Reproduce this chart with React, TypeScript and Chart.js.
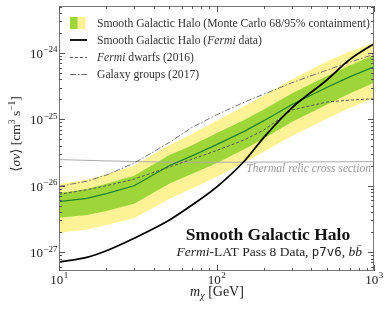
import React, { useEffect, useRef } from 'react';
import { Chart, registerables } from 'chart.js';
Chart.register(...registerables);

// ---- data ----
const masses = [10, 15, 20, 30, 50, 70, 100, 150, 200, 300, 500, 700, 1000];
const mcMedian = [5.75e-27, 6.46e-27, 7.59e-27, 1.0e-26, 2.0e-26, 2.82e-26, 4.17e-26, 6.61e-26, 9.55e-26, 1.66e-25, 3.02e-25, 4.37e-25, 6.17e-25];
const mc68Hi = [7.76e-27, 8.91e-27, 1.07e-26, 1.41e-26, 2.88e-26, 4.07e-26, 6.17e-26, 9.77e-26, 1.41e-25, 2.45e-25, 4.47e-25, 6.46e-25, 9.33e-25];
const mc68Lo = [3.31e-27, 3.63e-27, 4.17e-27, 5.37e-27, 1.07e-26, 1.51e-26, 2.19e-26, 3.55e-26, 5.13e-26, 9.12e-26, 1.66e-25, 2.45e-25, 3.55e-25];
const mc95Hi = [1.07e-26, 1.23e-26, 1.48e-26, 2.0e-26, 4.07e-26, 6.03e-26, 9.55e-26, 1.58e-25, 2.29e-25, 3.98e-25, 7.41e-25, 1.05e-24, 1.41e-24];
const mc95Lo = [1.95e-27, 2.19e-27, 2.57e-27, 3.24e-27, 6.31e-27, 9.12e-27, 1.35e-26, 2.24e-26, 3.24e-26, 5.62e-26, 1.02e-25, 1.48e-25, 2.09e-25];
const fermiData = [7.08e-28, 8.32e-28, 1.05e-27, 1.62e-27, 3.02e-27, 5.13e-27, 9.55e-27, 2.34e-26, 5.37e-26, 1.48e-25, 3.89e-25, 7.94e-25, 1.38e-24];
const dwarfs2016 = [7.41e-27, 8.71e-27, 1.0e-26, 1.26e-26, 1.91e-26, 2.51e-26, 3.39e-26, 4.9e-26, 6.92e-26, 1.38e-25, 1.82e-25, 1.95e-25, 2.04e-25];
const groups2017 = [9.77e-27, 1.17e-26, 1.45e-26, 2.19e-26, 4.47e-26, 7.59e-26, 1.17e-25, 1.82e-25, 2.4e-25, 3.55e-25, 5.5e-25, 7.24e-25, 9.55e-25];
const thermalMasses = [10, 20, 30, 50, 100, 300, 1000];
const thermalXS = [2.48e-26, 2.37e-26, 2.32e-26, 2.26e-26, 2.26e-26, 2.28e-26, 2.31e-26];

const xTickValues = [10, 100, 1000];
const xTickExps = ['1', '2', '3'];
const yTickValues = [1e-27, 1e-26, 1e-25, 1e-24];
const yTickExps = ['\u221227', '\u221226', '\u221225', '\u221224'];

const legendLabels = [
  [{ t: 'Smooth Galactic Halo (Monte Carlo 68/95% containment)' }],
  [{ t: 'Smooth Galactic Halo (' }, { t: 'Fermi', i: true }, { t: ' data)' }],
  [{ t: 'Fermi', i: true }, { t: ' dwarfs (2016)' }],
  [{ t: 'Galaxy groups (2017)' }],
];

const SERIF = '"Liberation Serif", "DejaVu Serif", serif';
const YELLOW = 'rgb(254,242,150)';
const GREEN = 'rgb(158,214,58)';
const MEDIAN = 'rgb(34,128,44)';
const TEXT = '#222';

const pts = (xs: number[], ys: number[]) => xs.map((x, i) => ({ x, y: ys[i] }));

type Seg = { t: string; i?: boolean; b?: boolean; mono?: boolean };

function segFont(s: Seg, size: number) {
  if (s.mono) return `${size * 0.92}px "DejaVu Sans Mono", "Liberation Mono", monospace`;
  return `${s.i ? 'italic ' : ''}${s.b ? 'bold ' : ''}${size}px ${SERIF}`;
}

function drawRich(ctx: CanvasRenderingContext2D, segs: Seg[], x: number, y: number, size: number, align: 'left' | 'right' | 'center', color: string) {
  ctx.save();
  ctx.textBaseline = 'alphabetic';
  ctx.textAlign = 'left';
  ctx.fillStyle = color;
  let total = 0;
  for (const s of segs) { ctx.font = segFont(s, size); total += ctx.measureText(s.t).width; }
  let cx = align === 'left' ? x : align === 'right' ? x - total : x - total / 2;
  for (const s of segs) {
    ctx.font = segFont(s, size);
    ctx.fillText(s.t, cx, y);
    cx += ctx.measureText(s.t).width;
  }
  ctx.restore();
}

const decorPlugin = {
  id: 'decor',
  afterDraw(chart: any) {
    const ctx: CanvasRenderingContext2D = chart.ctx;
    const { left, right, top, bottom } = chart.chartArea;
    const xs = chart.scales.x;
    const ys = chart.scales.y;
    ctx.save();
    // frame
    ctx.strokeStyle = '#777';
    ctx.lineWidth = 1;
    ctx.strokeRect(left + 0.5, top + 0.5, right - left - 1, bottom - top - 1);
    // ticks
    ctx.strokeStyle = '#555';
    ctx.beginPath();
    for (let d = 10; d <= 1000; d *= 10) {
      for (let k = 1; k <= 9; k++) {
        const v = d * k;
        if (v > 1000) break;
        const px = Math.round(xs.getPixelForValue(v)) + 0.5;
        const len = k === 1 ? 6 : 3;
        ctx.moveTo(px, bottom); ctx.lineTo(px, bottom - len);
        ctx.moveTo(px, top); ctx.lineTo(px, top + len);
      }
    }
    for (let e = -28; e <= -24; e++) {
      for (let k = 1; k <= 9; k++) {
        const v = k * Math.pow(10, e);
        if (v < ys.min || v > ys.max) continue;
        const py = Math.round(ys.getPixelForValue(v)) + 0.5;
        const len = k === 1 ? 6 : 3;
        ctx.moveTo(left, py); ctx.lineTo(left + len, py);
        ctx.moveTo(right, py); ctx.lineTo(right - len, py);
      }
    }
    ctx.stroke();

    // tick labels
    ctx.fillStyle = TEXT;
    ctx.textBaseline = 'alphabetic';
    ctx.textAlign = 'left';
    xTickValues.forEach((v, i) => {
      const px = xs.getPixelForValue(v);
      ctx.font = `13px ${SERIF}`;
      const w1 = ctx.measureText('10').width;
      ctx.font = `9px ${SERIF}`;
      const w2 = ctx.measureText(xTickExps[i]).width;
      const x0 = px - (w1 + w2) / 2;
      ctx.font = `13px ${SERIF}`;
      ctx.fillText('10', x0, 284);
      ctx.font = `9px ${SERIF}`;
      ctx.fillText(xTickExps[i], x0 + w1 + 0.5, 278);
    });
    yTickValues.forEach((v, i) => {
      const py = ys.getPixelForValue(v);
      ctx.font = `9px ${SERIF}`;
      const w2 = ctx.measureText(yTickExps[i]).width;
      ctx.fillText(yTickExps[i], 57.5 - w2, py - 0.5);
      ctx.font = `13px ${SERIF}`;
      const w1 = ctx.measureText('10').width;
      ctx.fillText('10', 57.5 - w2 - w1 - 0.5, py + 5);
    });

    // x title
    {
      ctx.font = `italic 14px ${SERIF}`;
      const wm = ctx.measureText('m').width;
      ctx.font = `italic 10px ${SERIF}`;
      const wc = ctx.measureText('\u03c7').width;
      ctx.font = `14px ${SERIF}`;
      const wg = ctx.measureText(' [GeV]').width;
      const tot = wm + wc + wg;
      let x0 = 217 - tot / 2;
      ctx.fillStyle = TEXT;
      ctx.font = `italic 14px ${SERIF}`;
      ctx.fillText('m', x0, 296);
      x0 += wm;
      ctx.font = `italic 10px ${SERIF}`;
      ctx.fillText('\u03c7', x0, 299);
      x0 += wc;
      ctx.font = `14px ${SERIF}`;
      ctx.fillText(' [GeV]', x0, 296);
    }
    // y title
    {
      ctx.save();
      ctx.translate(20, 134);
      ctx.rotate(-Math.PI / 2);
      const parts: { t: string; f: string; dy: number }[] = [
        { t: '\u27e8', f: `13.5px ${SERIF}`, dy: 0 },
        { t: '\u03c3v', f: `italic 13.5px ${SERIF}`, dy: 0 },
        { t: '\u27e9 [cm', f: `13.5px ${SERIF}`, dy: 0 },
        { t: '3', f: `9.5px ${SERIF}`, dy: -5 },
        { t: ' s', f: `13.5px ${SERIF}`, dy: 0 },
        { t: '\u22121', f: `9.5px ${SERIF}`, dy: -5 },
        { t: ']', f: `13.5px ${SERIF}`, dy: 0 },
      ];
      let tot = 0;
      for (const p of parts) { ctx.font = p.f; tot += ctx.measureText(p.t).width; }
      let cx = -tot / 2;
      ctx.fillStyle = TEXT;
      for (const p of parts) {
        ctx.font = p.f;
        ctx.fillText(p.t, cx, p.dy);
        cx += ctx.measureText(p.t).width;
      }
      ctx.restore();
    }

    // thermal label
    drawRich(ctx, [{ t: 'Thermal relic cross section', i: true }], 371, 172, 11.5, 'right', '#999');

    // annotation
    drawRich(ctx, [{ t: 'Smooth Galactic Halo', b: true }], 268, 240, 17.5, 'center', '#111');
    drawRich(ctx, [
      { t: 'Fermi', i: true }, { t: '-LAT Pass 8 Data, ' }, { t: 'p7v6', mono: true }, { t: ', ' }, { t: 'bb\u0304', i: true },
    ], 362, 256, 13.5, 'right', '#222');

    // legend
    const rowY = [23, 40, 57, 74];
    ctx.fillStyle = YELLOW;
    ctx.fillRect(70, 17, 15.5, 12);
    ctx.fillStyle = GREEN;
    ctx.fillRect(70, 17, 7.5, 12);
    ctx.lineWidth = 1.8;
    ctx.strokeStyle = '#000';
    ctx.setLineDash([]);
    ctx.beginPath(); ctx.moveTo(70, rowY[1]); ctx.lineTo(87, rowY[1]); ctx.stroke();
    ctx.lineWidth = 1;
    ctx.strokeStyle = '#555';
    ctx.setLineDash([3, 2]);
    ctx.beginPath(); ctx.moveTo(70, rowY[2] + 0.5); ctx.lineTo(87, rowY[2] + 0.5); ctx.stroke();
    ctx.strokeStyle = '#666';
    ctx.setLineDash([6, 2, 1.5, 2]);
    ctx.beginPath(); ctx.moveTo(70, rowY[3] + 0.5); ctx.lineTo(87, rowY[3] + 0.5); ctx.stroke();
    ctx.setLineDash([]);
    legendLabels.forEach((segs, i) => drawRich(ctx, segs, 97, rowY[i] + 4, 11.65, 'left', '#333'));
    ctx.restore();
  },
};

export default function App() {
  const ref = useRef<HTMLCanvasElement | null>(null);
  useEffect(() => {
    document.body.style.margin = '0';
    const canvas = ref.current;
    if (!canvas) return;
    const chart = new Chart(canvas, {
      type: 'line',
      data: {
        datasets: [
          { label: '95hi', data: pts(masses, mc95Hi), fill: 1, backgroundColor: YELLOW, borderWidth: 0, order: 20 } as any,
          { label: '95lo', data: pts(masses, mc95Lo), fill: false, borderWidth: 0, order: 21 } as any,
          { label: '68hi', data: pts(masses, mc68Hi), fill: 3, backgroundColor: GREEN, borderWidth: 0, order: 18 } as any,
          { label: '68lo', data: pts(masses, mc68Lo), fill: false, borderWidth: 0, order: 19 } as any,
          { label: 'median', data: pts(masses, mcMedian), borderColor: MEDIAN, borderWidth: 1.3, fill: false, order: 6 } as any,
          { label: 'thermal', data: pts(thermalMasses, thermalXS), borderColor: '#aaa', borderWidth: 1, fill: false, order: 7 } as any,
          { label: 'dwarfs', data: pts(masses, dwarfs2016), borderColor: '#555', borderWidth: 1, borderDash: [3, 2], fill: false, order: 4 } as any,
          { label: 'groups', data: pts(masses, groups2017), borderColor: '#666', borderWidth: 0.9, borderDash: [6, 2, 1.5, 2], fill: false, order: 3 } as any,
          { label: 'fermi', data: pts(masses, fermiData), borderColor: '#000', borderWidth: 1.8, fill: false, cubicInterpolationMode: 'monotone', order: 1 } as any,
        ],
      },
      options: {
        animation: false,
        responsive: false,
        maintainAspectRatio: false,
        layout: { padding: { top: 6, right: 16, left: 0, bottom: 0 } },
        elements: { point: { radius: 0 }, line: { tension: 0 } },
        scales: {
          x: {
            type: 'logarithmic', min: 10, max: 1000,
            grid: { display: false }, border: { display: false },
            ticks: { display: false },
            afterFit: (s: any) => { s.height = 41; },
          },
          y: {
            type: 'logarithmic', min: 5.2e-28, max: 5.1e-24,
            grid: { display: false }, border: { display: false },
            ticks: { display: false },
            afterFit: (s: any) => { s.width = 59; },
          },
        },
        plugins: { legend: { display: false }, tooltip: { enabled: false } },
      } as any,
      plugins: [decorPlugin],
    });
    return () => chart.destroy();
  }, []);
  return (
    <div style={{ width: 390, height: 312, background: '#fff' }}>
      <canvas ref={ref} width={390} height={312} style={{ width: 390, height: 312, display: 'block' }} />
    </div>
  );
}
